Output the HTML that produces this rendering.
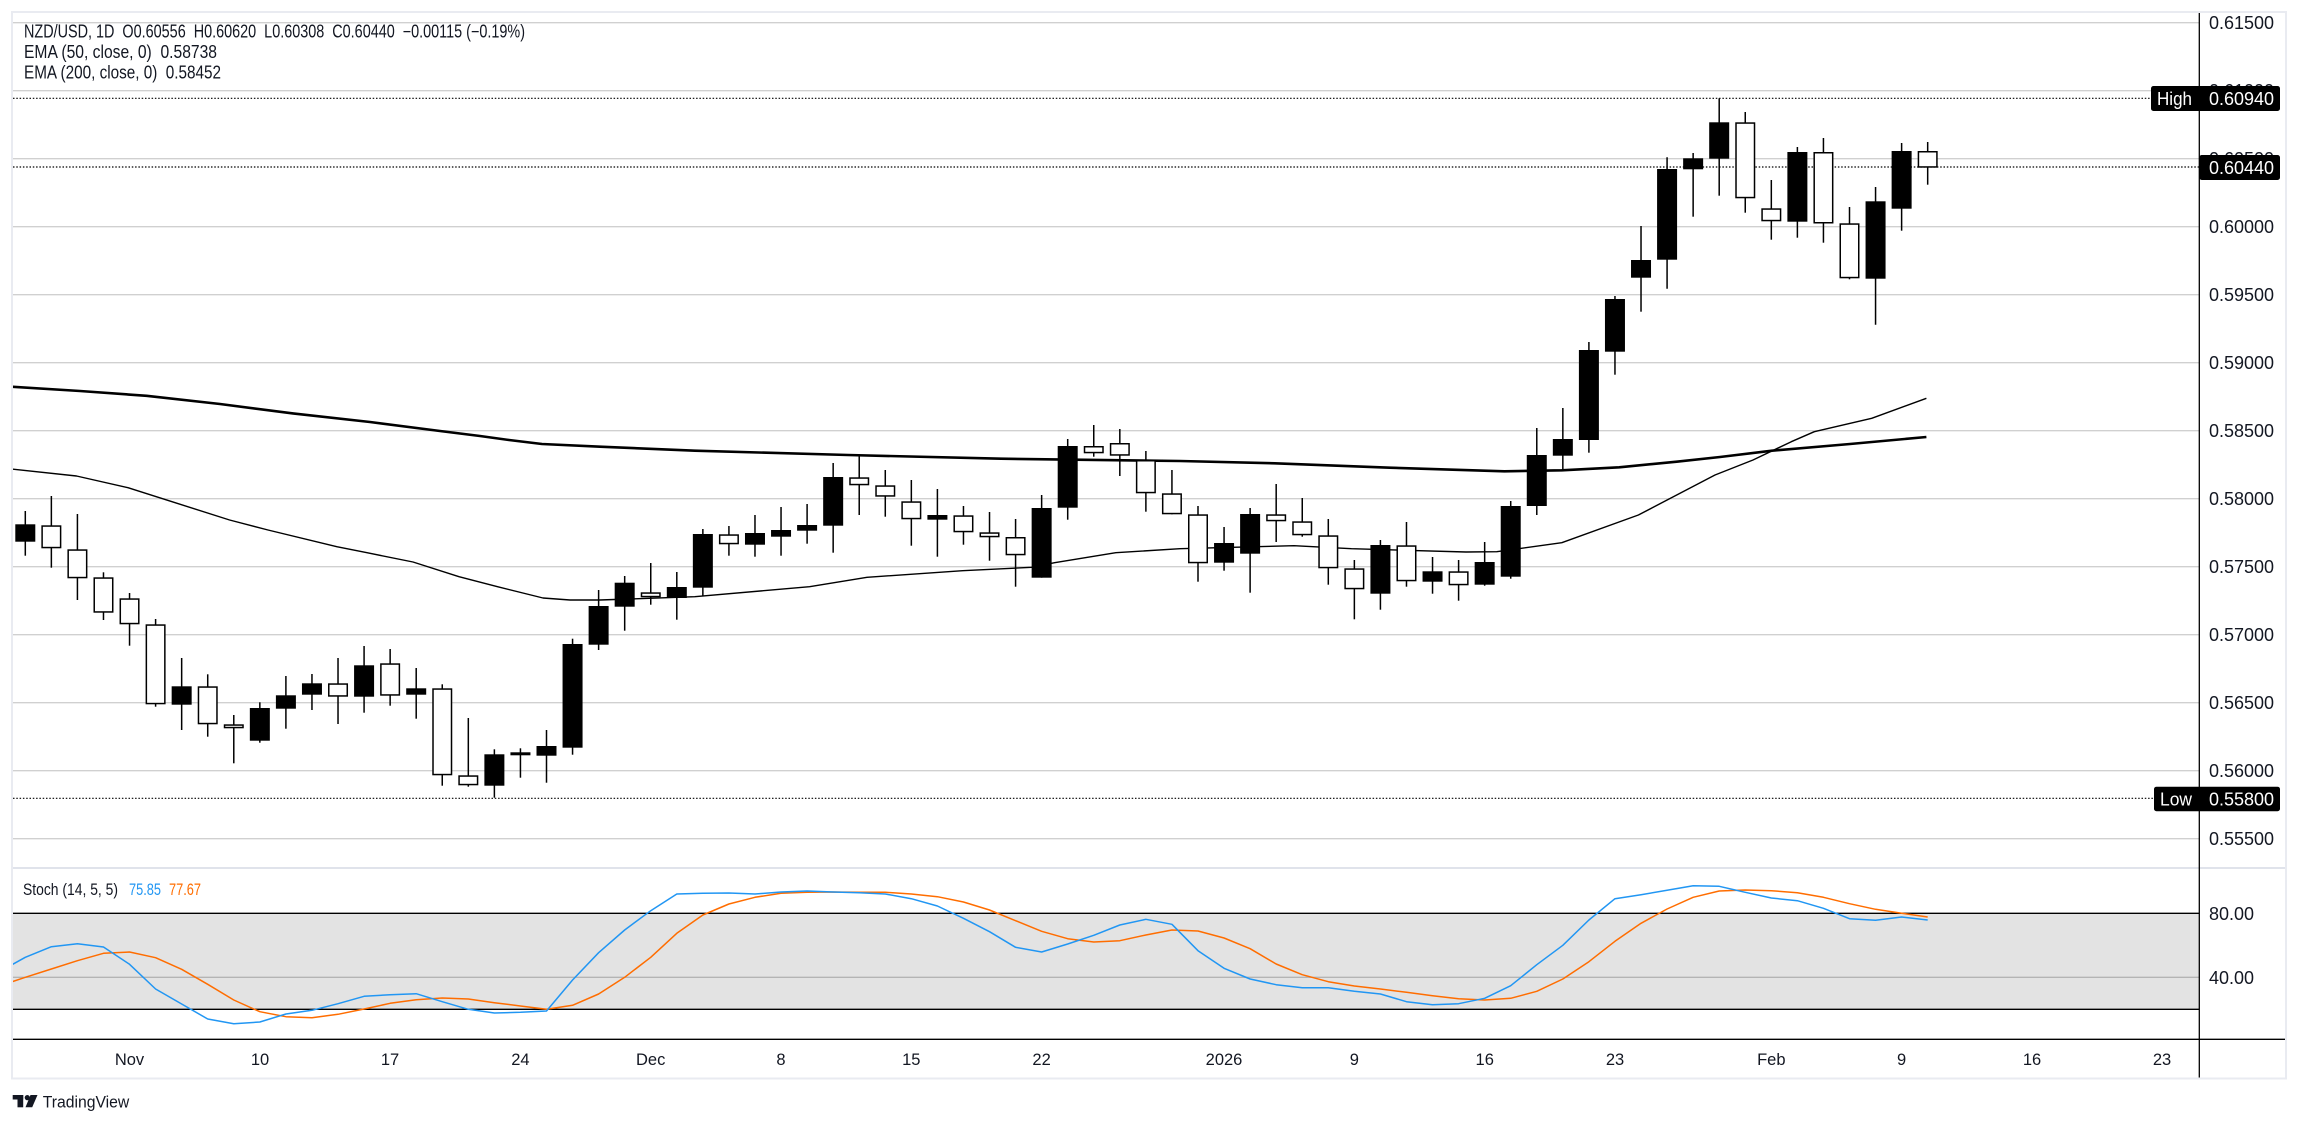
<!DOCTYPE html>
<html>
<head>
<meta charset="utf-8">
<style>
html,body{margin:0;padding:0;background:#fff;}
svg{display:block;}
text{font-family:"Liberation Sans",Arial,sans-serif;}
</style>
</head>
<body>
<svg width="2299" height="1123" viewBox="0 0 2299 1123" xmlns="http://www.w3.org/2000/svg">
<defs>
<clipPath id="cp"><rect x="13" y="13" width="2186" height="854"/></clipPath>
<clipPath id="cs"><rect x="13" y="869" width="2186" height="170"/></clipPath>
</defs>
<rect x="0" y="0" width="2299" height="1123" fill="#fff"/>

<!-- price gridlines -->
<g stroke="#d0d0d0" stroke-width="1.3">
<line x1="13" y1="22.7" x2="2199" y2="22.7"/>
<line x1="13" y1="90.7" x2="2199" y2="90.7"/>
<line x1="13" y1="158.7" x2="2199" y2="158.7"/>
<line x1="13" y1="226.7" x2="2199" y2="226.7"/>
<line x1="13" y1="294.7" x2="2199" y2="294.7"/>
<line x1="13" y1="362.7" x2="2199" y2="362.7"/>
<line x1="13" y1="430.7" x2="2199" y2="430.7"/>
<line x1="13" y1="498.7" x2="2199" y2="498.7"/>
<line x1="13" y1="566.7" x2="2199" y2="566.7"/>
<line x1="13" y1="634.7" x2="2199" y2="634.7"/>
<line x1="13" y1="702.7" x2="2199" y2="702.7"/>
<line x1="13" y1="770.7" x2="2199" y2="770.7"/>
<line x1="13" y1="838.7" x2="2199" y2="838.7"/>
</g>

<!-- dotted lines -->
<g stroke="#000" stroke-width="1.2" stroke-dasharray="1.5 1.8" fill="none">
<line x1="13" y1="98.3" x2="2151" y2="98.3"/>
<line x1="13" y1="167" x2="2199" y2="167"/>
<line x1="13" y1="798.3" x2="2154" y2="798.3"/>
</g>

<!-- legend -->
<g fill="#131722" font-size="18">
<text x="24" y="37.3" textLength="501" lengthAdjust="spacingAndGlyphs" xml:space="preserve">NZD/USD, 1D  O0.60556  H0.60620  L0.60308  C0.60440  −0.00115 (−0.19%)</text>
<text x="24" y="57.8" textLength="193" lengthAdjust="spacingAndGlyphs" xml:space="preserve">EMA (50, close, 0)  0.58738</text>
<text x="24" y="78.3" textLength="197" lengthAdjust="spacingAndGlyphs" xml:space="preserve">EMA (200, close, 0)  0.58452</text>
</g>

<g clip-path="url(#cp)">
<!-- EMA 200 -->
<polyline fill="none" stroke="#000" stroke-width="2.6" stroke-linejoin="round" points="12.7,386.8 80,391 146.6,395.8 220,404 293,413.4 370,422 440,431 480,436 509,440 542,444 600,446.7 694.8,450.7 848,455 1001,458.7 1180,461 1274.8,463.3 1389.6,467.7 1504.4,471.3 1561.8,470.3 1619.2,467.3 1676.7,461.7 1720,457 1772,450.7 1850,444 1926.4,437"/>
<!-- EMA 50 -->
<polyline fill="none" stroke="#000" stroke-width="1.4" stroke-linejoin="round" points="12.7,469.2 76.5,476 128,487.7 172,501.7 229.6,520 268,530 336.8,546.7 367,552.7 413,562 459,576.7 497.5,586.7 543,598 570,600 600,600 694.8,596.7 809.6,586.7 867,577.3 962.7,570.7 1031.6,567.3 1054.6,562.7 1115.8,552.7 1180,548.7 1294,545.7 1351.4,548.7 1466,552 1496.8,551.7 1561.8,542.7 1638.4,515 1715,475 1753,460 1791.3,441.7 1814.3,431.7 1871.7,418.3 1926.4,398.3"/>

<!-- wicks -->
<g stroke="#000" stroke-width="1.5">
<line x1="25.3" y1="511" x2="25.3" y2="555.7"/>
<line x1="51.36" y1="496" x2="51.36" y2="567.7"/>
<line x1="77.42" y1="514" x2="77.42" y2="600"/>
<line x1="103.48" y1="572.3" x2="103.48" y2="620"/>
<line x1="129.54" y1="593" x2="129.54" y2="645.7"/>
<line x1="155.6" y1="619" x2="155.6" y2="706.7"/>
<line x1="181.66" y1="658" x2="181.66" y2="730"/>
<line x1="207.72" y1="674.3" x2="207.72" y2="736.7"/>
<line x1="233.78" y1="715" x2="233.78" y2="763.3"/>
<line x1="259.84" y1="702.3" x2="259.84" y2="742.7"/>
<line x1="285.9" y1="676" x2="285.9" y2="728.7"/>
<line x1="311.96" y1="674" x2="311.96" y2="710"/>
<line x1="338.02" y1="658" x2="338.02" y2="724"/>
<line x1="364.08" y1="646" x2="364.08" y2="712.7"/>
<line x1="390.14" y1="649" x2="390.14" y2="705.7"/>
<line x1="416.2" y1="668" x2="416.2" y2="718.7"/>
<line x1="442.26" y1="684.3" x2="442.26" y2="785.7"/>
<line x1="468.32" y1="718" x2="468.32" y2="786.7"/>
<line x1="494.38" y1="749.3" x2="494.38" y2="797.7"/>
<line x1="520.44" y1="748.3" x2="520.44" y2="777.7"/>
<line x1="546.5" y1="730" x2="546.5" y2="782.7"/>
<line x1="572.56" y1="638.7" x2="572.56" y2="754.7"/>
<line x1="598.62" y1="590" x2="598.62" y2="650"/>
<line x1="624.68" y1="576" x2="624.68" y2="630.7"/>
<line x1="650.74" y1="563" x2="650.74" y2="604.7"/>
<line x1="676.8" y1="572" x2="676.8" y2="619.7"/>
<line x1="702.86" y1="529" x2="702.86" y2="596"/>
<line x1="728.92" y1="526" x2="728.92" y2="555.7"/>
<line x1="754.98" y1="515" x2="754.98" y2="556.7"/>
<line x1="781.04" y1="507" x2="781.04" y2="555.7"/>
<line x1="807.1" y1="504" x2="807.1" y2="543.7"/>
<line x1="833.16" y1="463" x2="833.16" y2="552.7"/>
<line x1="859.22" y1="456" x2="859.22" y2="515"/>
<line x1="885.28" y1="470" x2="885.28" y2="516.7"/>
<line x1="911.34" y1="480" x2="911.34" y2="545.7"/>
<line x1="937.4" y1="489" x2="937.4" y2="556.7"/>
<line x1="963.46" y1="506" x2="963.46" y2="544.7"/>
<line x1="989.52" y1="512" x2="989.52" y2="560.7"/>
<line x1="1015.58" y1="519" x2="1015.58" y2="586.7"/>
<line x1="1041.64" y1="495" x2="1041.64" y2="577.7"/>
<line x1="1067.7" y1="439" x2="1067.7" y2="519.7"/>
<line x1="1093.76" y1="425" x2="1093.76" y2="456.7"/>
<line x1="1119.82" y1="429" x2="1119.82" y2="476"/>
<line x1="1145.88" y1="451" x2="1145.88" y2="511.7"/>
<line x1="1171.94" y1="470" x2="1171.94" y2="514.3"/>
<line x1="1198" y1="506" x2="1198" y2="581.7"/>
<line x1="1224.06" y1="527" x2="1224.06" y2="570.7"/>
<line x1="1250.12" y1="508" x2="1250.12" y2="592.7"/>
<line x1="1276.18" y1="484" x2="1276.18" y2="542"/>
<line x1="1302.24" y1="498" x2="1302.24" y2="536.7"/>
<line x1="1328.3" y1="519" x2="1328.3" y2="584.7"/>
<line x1="1354.36" y1="560" x2="1354.36" y2="619.3"/>
<line x1="1380.42" y1="540" x2="1380.42" y2="609.7"/>
<line x1="1406.48" y1="522" x2="1406.48" y2="586.7"/>
<line x1="1432.54" y1="557" x2="1432.54" y2="593.7"/>
<line x1="1458.6" y1="560" x2="1458.6" y2="600.7"/>
<line x1="1484.66" y1="542" x2="1484.66" y2="585.7"/>
<line x1="1510.72" y1="501" x2="1510.72" y2="578.7"/>
<line x1="1536.78" y1="428" x2="1536.78" y2="515"/>
<line x1="1562.84" y1="408" x2="1562.84" y2="470"/>
<line x1="1588.9" y1="342" x2="1588.9" y2="452.7"/>
<line x1="1614.96" y1="296" x2="1614.96" y2="374.7"/>
<line x1="1641.02" y1="226" x2="1641.02" y2="311.7"/>
<line x1="1667.08" y1="157.3" x2="1667.08" y2="288.7"/>
<line x1="1693.14" y1="153" x2="1693.14" y2="216.7"/>
<line x1="1719.2" y1="98.3" x2="1719.2" y2="195.7"/>
<line x1="1745.26" y1="112" x2="1745.26" y2="212.7"/>
<line x1="1771.32" y1="180" x2="1771.32" y2="239.7"/>
<line x1="1797.38" y1="147" x2="1797.38" y2="237.7"/>
<line x1="1823.44" y1="138" x2="1823.44" y2="242.7"/>
<line x1="1849.5" y1="207" x2="1849.5" y2="279.3"/>
<line x1="1875.56" y1="187" x2="1875.56" y2="324.7"/>
<line x1="1901.62" y1="143" x2="1901.62" y2="230.7"/>
<line x1="1927.68" y1="142" x2="1927.68" y2="184.7"/>
</g>

<!-- bullish (black) bodies -->
<g fill="#000">
<rect x="15.3" y="524.3" width="20" height="17.4"/>
<rect x="171.66" y="686.3" width="20" height="18.4"/>
<rect x="249.84" y="708" width="20" height="32.7"/>
<rect x="275.9" y="695.3" width="20" height="13.4"/>
<rect x="301.96" y="683.3" width="20" height="11.4"/>
<rect x="354.08" y="665.3" width="20" height="31.4"/>
<rect x="406.2" y="688.3" width="20" height="6.4"/>
<rect x="484.38" y="754.3" width="20" height="31.4"/>
<rect x="536.5" y="746" width="20" height="9.7"/>
<rect x="562.56" y="644" width="20" height="103.7"/>
<rect x="588.62" y="606" width="20" height="38.7"/>
<rect x="614.68" y="582.7" width="20" height="24"/>
<rect x="666.8" y="587" width="20" height="11"/>
<rect x="692.86" y="534" width="20" height="53.7"/>
<rect x="744.98" y="533" width="20" height="11.7"/>
<rect x="771.04" y="530" width="20" height="6.7"/>
<rect x="797.1" y="525" width="20" height="5.7"/>
<rect x="823.16" y="477" width="20" height="48.7"/>
<rect x="927.4" y="515" width="20" height="4.7"/>
<rect x="1031.64" y="508" width="20" height="69.7"/>
<rect x="1057.7" y="446" width="20" height="61.7"/>
<rect x="1214.06" y="543" width="20" height="19.7"/>
<rect x="1240.12" y="514" width="20" height="39.7"/>
<rect x="1370.42" y="545" width="20" height="48.7"/>
<rect x="1422.54" y="571.3" width="20" height="10.4"/>
<rect x="1474.66" y="562" width="20" height="22.7"/>
<rect x="1500.72" y="506" width="20" height="70.7"/>
<rect x="1526.78" y="455" width="20" height="51"/>
<rect x="1552.84" y="439" width="20" height="16.7"/>
<rect x="1578.9" y="350" width="20" height="90"/>
<rect x="1604.96" y="299" width="20" height="52.7"/>
<rect x="1631.02" y="260" width="20" height="17.7"/>
<rect x="1657.08" y="169" width="20" height="90.7"/>
<rect x="1683.14" y="158.3" width="20" height="11"/>
<rect x="1709.2" y="122.3" width="20" height="36.4"/>
<rect x="1787.38" y="152" width="20" height="69.7"/>
<rect x="1865.56" y="201.3" width="20" height="77.4"/>
<rect x="1891.62" y="151" width="20" height="57.7"/>
</g>

<!-- bearish (hollow) bodies -->
<g fill="#fff" stroke="#000" stroke-width="1.5">
<rect x="42.11" y="526.05" width="18.5" height="21.5"/>
<rect x="68.17" y="550.05" width="18.5" height="27.5"/>
<rect x="94.23" y="578.05" width="18.5" height="33.9"/>
<rect x="120.29" y="599.05" width="18.5" height="24.5"/>
<rect x="146.35" y="625.05" width="18.5" height="78.5"/>
<rect x="198.47" y="687.05" width="18.5" height="36.5"/>
<rect x="224.53" y="725.05" width="18.5" height="2.5"/>
<rect x="328.77" y="684.05" width="18.5" height="11.9"/>
<rect x="380.89" y="664.05" width="18.5" height="30.9"/>
<rect x="433.01" y="689.05" width="18.5" height="85.5"/>
<rect x="459.07" y="776.05" width="18.5" height="8.5"/>
<rect x="511.19" y="753.05" width="18.5" height="1.5"/>
<rect x="641.49" y="593.05" width="18.5" height="3.5"/>
<rect x="719.67" y="535.05" width="18.5" height="8.5"/>
<rect x="849.97" y="478.05" width="18.5" height="6.5"/>
<rect x="876.03" y="486.05" width="18.5" height="9.9"/>
<rect x="902.09" y="502.05" width="18.5" height="16.5"/>
<rect x="954.21" y="516.05" width="18.5" height="15.5"/>
<rect x="980.27" y="533.05" width="18.5" height="3.5"/>
<rect x="1006.33" y="537.75" width="18.5" height="16.8"/>
<rect x="1084.51" y="446.75" width="18.5" height="5.8"/>
<rect x="1110.57" y="443.75" width="18.5" height="11.2"/>
<rect x="1136.63" y="460.75" width="18.5" height="31.8"/>
<rect x="1162.69" y="494.05" width="18.5" height="19.5"/>
<rect x="1188.75" y="515.05" width="18.5" height="47.5"/>
<rect x="1266.93" y="515.05" width="18.5" height="5.5"/>
<rect x="1292.99" y="522.05" width="18.5" height="12.5"/>
<rect x="1319.05" y="536.05" width="18.5" height="31.5"/>
<rect x="1345.11" y="569.05" width="18.5" height="19.5"/>
<rect x="1397.23" y="546.05" width="18.5" height="34.5"/>
<rect x="1449.35" y="572.05" width="18.5" height="12.5"/>
<rect x="1736.01" y="123.05" width="18.5" height="74.5"/>
<rect x="1762.07" y="209.05" width="18.5" height="11.5"/>
<rect x="1814.19" y="152.75" width="18.5" height="70"/>
<rect x="1840.25" y="224.05" width="18.5" height="53.5"/>
<rect x="1918.43" y="151.75" width="18.5" height="15.2"/>
</g>
</g>

<!-- Stoch pane -->
<rect x="13" y="913.3" width="2186" height="96" fill="#e3e3e3"/>
<line x1="13" y1="977.3" x2="2199" y2="977.3" stroke="#b4b4b4" stroke-width="1.3"/>
<line x1="13" y1="913.3" x2="2199" y2="913.3" stroke="#000" stroke-width="1.3"/>
<line x1="13" y1="1009.3" x2="2199" y2="1009.3" stroke="#000" stroke-width="1.3"/>

<g clip-path="url(#cs)" fill="none" stroke-width="1.5" stroke-linejoin="round">
<polyline stroke="#ff6d00" points="12.7,981.5 25.3,977.3 51.36,969 77.42,960.7 103.48,953.3 129.54,952 155.6,957.7 181.66,969.3 207.72,984.3 233.78,1000 259.84,1011.7 285.9,1016.7 311.96,1017.7 338.02,1014.3 364.08,1009 390.14,1003.3 416.2,999.7 442.26,998 468.32,999 494.38,1002.7 520.44,1006 546.5,1009.3 572.56,1005.3 598.62,994 624.68,977.3 650.74,957.3 676.8,933.3 702.86,915 728.92,904 754.98,897.3 781.04,893.3 807.1,892.3 833.16,892 859.22,892.3 885.28,892.3 911.34,894 937.4,896.7 963.46,902 989.52,910 1015.58,920.7 1041.64,931.3 1067.7,938.7 1093.76,942 1119.82,940.7 1145.88,935 1171.94,930 1198,931 1224.06,938 1250.12,948.7 1276.18,964 1302.24,974.7 1328.3,981.7 1354.36,986 1380.42,989 1406.48,992.3 1432.54,995.7 1458.6,998.7 1484.66,1000 1510.72,998.3 1536.78,991.3 1562.84,979 1588.9,961.7 1614.96,941.3 1641.02,923.3 1667.08,909 1693.14,897.3 1719.2,891 1745.26,890 1771.32,890.7 1797.38,892.7 1823.44,897.3 1849.5,903.7 1875.56,909.3 1901.62,913.3 1927.68,917"/>
<polyline stroke="#2196f3" points="12.7,964.3 25.3,957.3 51.36,946.7 77.42,943.7 103.48,947 129.54,964.3 155.6,989 181.66,1004 207.72,1019 233.78,1023.7 259.84,1022 285.9,1014 311.96,1010.3 338.02,1003.7 364.08,996.3 390.14,994.7 416.2,993.7 442.26,1001.7 468.32,1009.3 494.38,1013 520.44,1012.3 546.5,1011 572.56,980 598.62,952.7 624.68,930 650.74,910.7 676.8,894 702.86,893.3 728.92,893 754.98,894 781.04,892 807.1,891 833.16,892 859.22,892.7 885.28,894 911.34,898.7 937.4,906 963.46,918.3 989.52,931.7 1015.58,947.3 1041.64,952 1067.7,944 1093.76,935.3 1119.82,925 1145.88,919.3 1171.94,924.3 1198,950.7 1224.06,968.3 1250.12,979 1276.18,984.7 1302.24,987.7 1328.3,987.7 1354.36,991.3 1380.42,994 1406.48,1001.7 1432.54,1004.7 1458.6,1003.7 1484.66,998.3 1510.72,985.7 1536.78,964.7 1562.84,945.3 1588.9,920 1614.96,898.7 1641.02,894.7 1667.08,890.3 1693.14,885.7 1719.2,886.3 1745.26,892.3 1771.32,898 1797.38,900.7 1823.44,908.3 1849.5,918.7 1875.56,920.3 1901.62,917 1927.68,920"/>
</g>

<g font-size="17">
<text x="23" y="895" fill="#131722" textLength="95" lengthAdjust="spacingAndGlyphs">Stoch (14, 5, 5)</text>
<text x="129" y="895" fill="#2196f3" textLength="32" lengthAdjust="spacingAndGlyphs">75.85</text>
<text x="169" y="895" fill="#ff6d00" textLength="32" lengthAdjust="spacingAndGlyphs">77.67</text>
</g>

<!-- frame, separators, axes -->
<line x1="12" y1="868" x2="2286" y2="868" stroke="#e0e3eb" stroke-width="2"/>
<line x1="12" y1="1039.3" x2="2286" y2="1039.3" stroke="#000" stroke-width="1.3"/>
<line x1="2199.3" y1="12.7" x2="2199.3" y2="1078" stroke="#000" stroke-width="1.3"/>
<rect x="12" y="12" width="2274" height="1066.5" fill="none" stroke="#e9ebf1" stroke-width="2"/>

<!-- price axis labels -->
<g fill="#131722" font-size="18">
<text x="2209" y="29.2">0.61500</text>
<text x="2209" y="97.2">0.61000</text>
<text x="2209" y="165.2">0.60500</text>
<text x="2209" y="233.2">0.60000</text>
<text x="2209" y="301.2">0.59500</text>
<text x="2209" y="369.2">0.59000</text>
<text x="2209" y="437.2">0.58500</text>
<text x="2209" y="505.2">0.58000</text>
<text x="2209" y="573.2">0.57500</text>
<text x="2209" y="641.2">0.57000</text>
<text x="2209" y="709.2">0.56500</text>
<text x="2209" y="777.2">0.56000</text>
<text x="2209" y="845.2">0.55500</text>
<text x="2209" y="919.8">80.00</text>
<text x="2209" y="983.8">40.00</text>
</g>

<!-- price tags -->
<rect x="2151" y="86" width="129" height="25" rx="2.5" fill="#000"/>
<rect x="2199.3" y="155" width="80.7" height="25" rx="2.5" fill="#000"/>
<rect x="2154" y="786.7" width="126" height="24.5" rx="2.5" fill="#000"/>
<g fill="#fff" font-size="18">
<text x="2157" y="104.8" textLength="35" lengthAdjust="spacingAndGlyphs">High</text>
<text x="2209" y="104.8">0.60940</text>
<text x="2209" y="173.8">0.60440</text>
<text x="2160" y="805.3" textLength="32" lengthAdjust="spacingAndGlyphs">Low</text>
<text x="2209" y="805.3">0.55800</text>
</g>

<!-- time axis -->
<g fill="#131722" font-size="16.5" text-anchor="middle">
<text x="129.5" y="1065">Nov</text>
<text x="260" y="1065">10</text>
<text x="390" y="1065">17</text>
<text x="520.4" y="1065">24</text>
<text x="650.7" y="1065">Dec</text>
<text x="781" y="1065">8</text>
<text x="911.3" y="1065">15</text>
<text x="1041.6" y="1065">22</text>
<text x="1224" y="1065">2026</text>
<text x="1354.4" y="1065">9</text>
<text x="1484.7" y="1065">16</text>
<text x="1615" y="1065">23</text>
<text x="1771.3" y="1065">Feb</text>
<text x="1901.6" y="1065">9</text>
<text x="2032" y="1065">16</text>
<text x="2162" y="1065">23</text>
</g>

<!-- TradingView logo -->
<g fill="#131722">
<rect x="12.7" y="1095" width="10.5" height="4.5"/>
<rect x="17.5" y="1095" width="5.7" height="12.3"/>
<circle cx="27.3" cy="1097.6" r="2.6"/>
<polygon points="30.5,1095 37.5,1095 32.2,1107.3 25.5,1107.3"/>
</g>
<text x="42.7" y="1107.3" fill="#131722" font-size="17" textLength="86.6" lengthAdjust="spacingAndGlyphs">TradingView</text>
</svg>
</body>
</html>
